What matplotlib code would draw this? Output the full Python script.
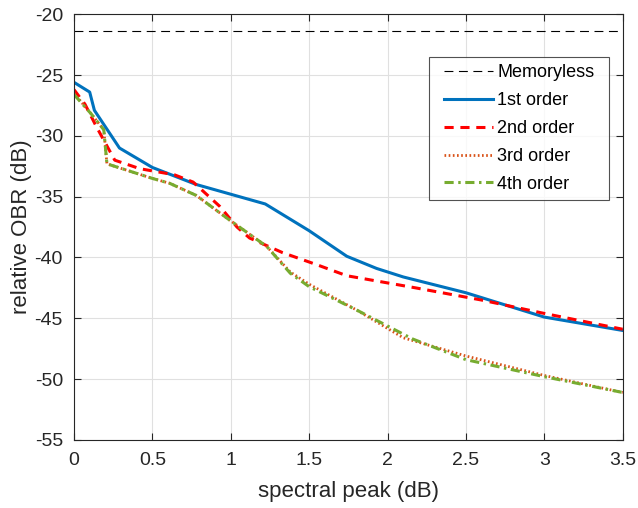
import numpy as np
import matplotlib
matplotlib.use("Agg")
from matplotlib import pyplot as plt
from matplotlib.path import Path

plt.rcParams["font.family"] = ["Liberation Sans", "DejaVu Sans"]
plt.rcParams["axes.unicode_minus"] = False

# values
memoryless_db = -21.4

x_1st = [0, 0.1, 0.13, 0.29, 0.5, 0.78, 1.0, 1.22, 1.5, 1.74, 1.93, 2.1, 2.5, 3.0, 3.5]
y_1st = [-25.6, -26.4, -27.9, -31.0, -32.6, -34.0, -34.8, -35.6, -37.8, -39.9, -40.9, -41.6, -42.9, -44.9, -46.0]

x_2nd = [0, 0.07, 0.145, 0.26, 0.42, 0.64, 0.76, 0.93, 1.04, 1.12, 1.33, 1.55, 1.74, 2.18, 2.6, 3.0, 3.5]
y_2nd = [-26.2, -27.4, -29.3, -32.0, -32.7, -33.2, -33.8, -35.8, -37.5, -38.4, -39.6, -40.6, -41.5, -42.5, -43.5, -44.6, -45.9]

x_3rd = [0, 0.11, 0.19, 0.21, 0.5, 0.61, 0.78, 0.99, 1.23, 1.38, 1.5, 1.8, 2.1, 2.5, 3.0, 3.5]
y_3rd = [-26.5, -28.2, -29.5, -32.3, -33.5, -33.9, -34.9, -36.9, -39.1, -41.2, -42.2, -44.3, -46.6, -48.1, -49.7, -51.1]

x_4th = [0, 0.11, 0.19, 0.21, 0.5, 0.61, 0.78, 0.99, 1.23, 1.38, 1.5, 1.8, 2.16, 2.5, 3.0, 3.5]
y_4th = [-26.6, -28.2, -29.5, -32.3, -33.5, -33.9, -34.9, -36.9, -39.1, -41.3, -42.4, -44.3, -46.7, -48.4, -49.8, -51.1]


def wide_box(x0, y0, width, height, mutation_size):
    # legend frame with more room left/right than top/bottom (matlab look)
    px = 0.4 * mutation_size
    xs = [x0 - px, x0 + width + px]
    ys = [y0, y0 + height]
    verts = [(xs[0], ys[0]), (xs[1], ys[0]), (xs[1], ys[1]), (xs[0], ys[1]), (xs[0], ys[0])]
    return Path(verts, closed=True)


fig = plt.figure(figsize=(6.38, 5.08), dpi=100)
ax = fig.add_axes([0.116, 0.134, 0.86, 0.838])

ax.axhline(memoryless_db, color="black", lw=0.8, ls=(0, (8, 5)), label="Memoryless")
ax.plot(x_1st, y_1st, color=(0, 0.447, 0.741), lw=2.2, label="1st order")
ax.plot(x_2nd, y_2nd, color="red", lw=2.2, ls=(0, (3, 2.2)), label="2nd order")
ax.plot(x_3rd, y_3rd, color=(0.85, 0.325, 0.098), lw=2.0, ls=(0, (0.6, 0.9)), label="3rd order")
ax.plot(x_4th, y_4th, color=(0.466, 0.674, 0.188), lw=2.2, ls=(0, (3, 1.5, 0.8, 1.5)), label="4th order")

ax.set_xlim(0, 3.5)
ax.set_ylim(-55, -20)
ax.set_xticks(np.arange(0, 3.51, 0.5))
ax.set_xticklabels(["0", "0.5", "1", "1.5", "2", "2.5", "3", "3.5"])
ax.set_yticks(np.arange(-55, -19, 5))
ax.grid(True, color="#e0e0e0", lw=0.8)
ax.set_axisbelow(True)
ax.tick_params(direction="in", top=True, right=True, labelsize=14, colors="#262626", length=5)
ax.tick_params(axis="x", pad=9)
ax.tick_params(axis="y", pad=8)
for s in ax.spines.values():
    s.set_color("#262626")
    s.set_linewidth(0.8)

ax.set_xlabel("spectral peak (dB)", fontsize=16, color="#262626", labelpad=8)
ax.set_ylabel("relative OBR (dB)", fontsize=16, color="#262626", labelpad=2)

leg = ax.legend(loc="upper right", bbox_to_anchor=(0.962, 0.9), fontsize=13, frameon=True,
                fancybox=False, edgecolor="#262626", handlelength=2.7, handletextpad=0.25,
                borderpad=0.42, labelspacing=0.6, borderaxespad=0)
leg.get_frame().set_linewidth(0.8)
leg.get_frame().set_boxstyle(wide_box)

fig.savefig("out.png", dpi=100)
